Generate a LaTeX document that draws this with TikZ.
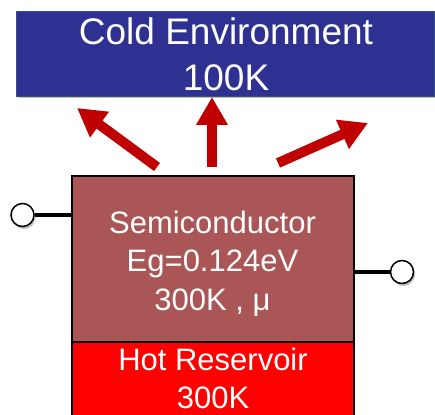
\documentclass[tikz,border=0pt]{standalone}
\usepackage{fontspec}
\setmainfont{Liberation Sans}
\usetikzlibrary{arrows.meta,shadows}
\definecolor{coldblue}{RGB}{46,49,146}
\definecolor{coldedge}{RGB}{56,80,130}
\definecolor{semicol}{RGB}{170,86,86}
\definecolor{arrowred}{RGB}{192,0,0}
\definecolor{hotred}{RGB}{255,0,0}
\tikzset{
  boxshadow/.style={drop shadow={shadow xshift=1.5pt, shadow yshift=-2.5pt, fill=black, opacity=0.25}},
  coldbox/.style={rectangle, fill=coldblue, draw=coldedge, line width=0.8pt, inner sep=0pt, boxshadow},
  semibox/.style={rectangle, fill=semicol, draw=black, line width=1.2pt, inner sep=0pt},
  hotbox/.style={rectangle, fill=hotred, draw=black, line width=1.2pt, inner sep=0pt},
  bigtxt/.style={text=white, inner sep=0pt, anchor=base, font=\fontsize{37}{44}\selectfont},
  midtxt/.style={text=white, inner sep=0pt, anchor=base, font=\fontsize{31}{38}\selectfont},
  heat/.style={draw=arrowred, line width=10pt, -{Triangle[width=30pt,length=28pt]}},
  terminal/.style={circle, draw=black, fill=white, line width=1.5pt, minimum size=23pt, inner sep=0pt, boxshadow},
  wire/.style={draw=black, line width=4pt}
}
\begin{document}
\begin{tikzpicture}[x=1pt,y=-1pt]
\useasboundingbox (0,0) rectangle (435,414);
\clip (0,0) rectangle (435,414);
% cold environment
\node[coldbox, minimum width=418pt, minimum height=85pt] (cold) at (225,53.5) {};
\node[bigtxt] (coldA) at (226,45) {Cold Environment};
\node[bigtxt] (coldB) at (226,91) {100K};
% semiconductor and hot reservoir
\node[hotbox, minimum width=282pt, minimum height=80pt] (hot) at (213,382) {};
\node[semibox, minimum width=282pt, minimum height=166pt] (semi) at (213,259) {};
\node[midtxt] (semiA) at (212.5,233) {Semiconductor};
\node[midtxt] (semiB) at (212.5,271.5) {Eg=0.124eV};
\node[midtxt] (semiC) at (212.5,310) {300K , μ};
\node[midtxt] (hotA) at (213,370) {Hot Reservoir};
\node[midtxt] (hotB) at (213,408) {300K};
% terminals
\node[terminal] (tl) at (22.5,215) {};
\node[terminal] (tr) at (402,272) {};
\draw[wire] (tl.east) -- (tl.east -| semi.west);
\draw[wire] (tr.west -| semi.east) -- (tr.west);
% heat arrows
\coordinate (h1s) at (157,167);
\coordinate (h1e) at (77,108);
\coordinate (h2s) at (212,167);
\coordinate (h2e) at (212,97);
\coordinate (h3s) at (278,163);
\coordinate (h3e) at (368,123);
\draw[heat] (h1s) -- (h1e);
\draw[heat] (h2s) -- (h2e);
\draw[heat] (h3s) -- (h3e);
\end{tikzpicture}
\end{document}
